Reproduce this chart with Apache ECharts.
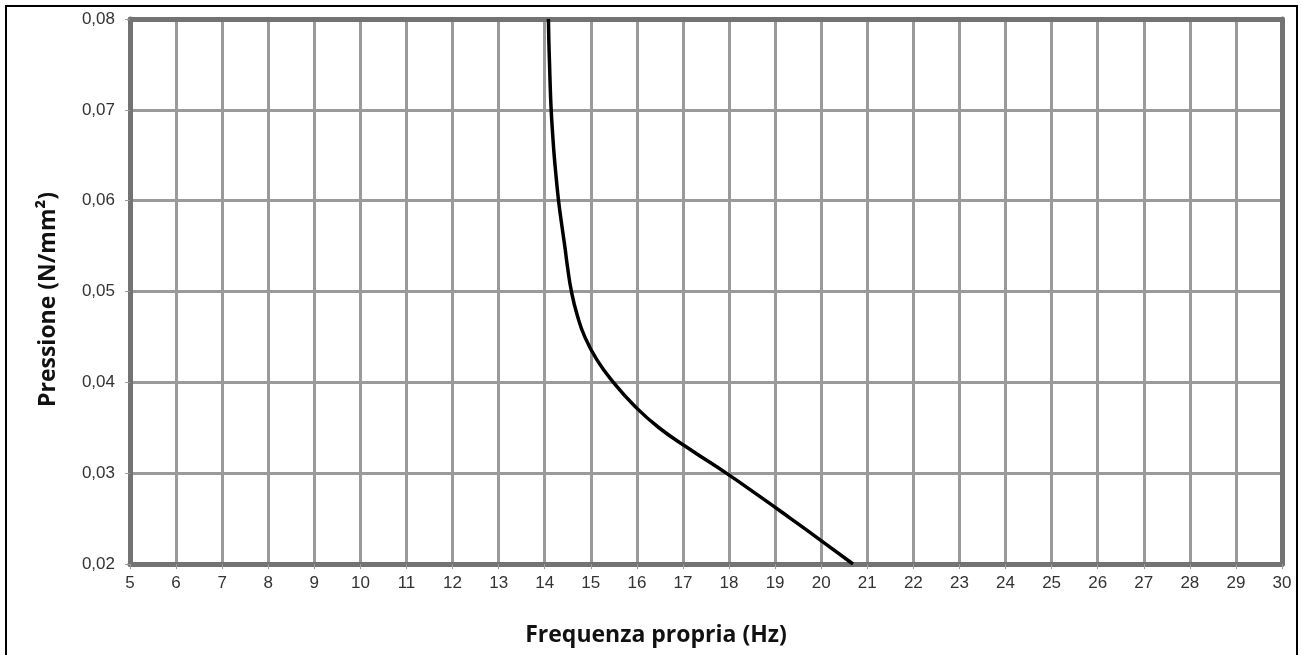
<!DOCTYPE html>
<html>
<head>
<meta charset="utf-8">
<script src="https://cdn.jsdelivr.net/npm/echarts@6/dist/echarts.min.js"></script>
<style>
html,body{margin:0;padding:0;background:#fff;}
#frame{position:absolute;left:5px;top:5px;width:1293px;height:670px;border:2px solid #000;box-sizing:border-box;}
#chart{position:absolute;left:0;top:0;width:1303px;height:655px;}
</style>
</head>
<body>
<div id="frame"></div>
<div id="chart"></div>
<script>
const pressure  = [0.020, 0.0225, 0.025, 0.0275, 0.030, 0.0325, 0.035, 0.0375, 0.040, 0.0425, 0.045, 0.0475, 0.050, 0.0525, 0.055, 0.0575, 0.060, 0.0625, 0.065, 0.0675, 0.070, 0.0725, 0.075, 0.0775, 0.080];
const frequency = [20.69, 20.02, 19.34, 18.65, 17.94, 17.19, 16.48, 15.93, 15.49, 15.13, 14.87, 14.70, 14.58, 14.50, 14.435, 14.365, 14.30, 14.25, 14.205, 14.17, 14.14, 14.12, 14.105, 14.09, 14.08];
const xTitle = 'Frequenza propria (Hz)';
const yTitle = 'Pressione (N/mm²)';

const chart = echarts.init(document.getElementById('chart'), null, {renderer: 'canvas'});
const fmtY = v => v.toFixed(2).replace('.', ',');
const gridColor = '#9a9a9a';
const frameColor = '#737373';
const option = {
  animation: false,
  grid: {left: 130, right: 21, top: 19, bottom: 91},
  xAxis: [{
    type: 'value', min: 5, max: 30, interval: 1,
    name: xTitle, nameLocation: 'middle', nameGap: 60,
    nameTextStyle: {fontFamily: 'Open Sans', fontWeight: 'bold', fontSize: 23, color: '#111', padding: [0, 100, 0, 0]},
    axisLine: {show: true, lineStyle: {color: frameColor, width: 5}},
    axisTick: {show: true, length: 5, lineStyle: {color: gridColor, width: 1}},
    axisLabel: {color: '#333', fontFamily: 'Liberation Sans', fontSize: 17, margin: 11},
    splitLine: {show: true, lineStyle: {color: gridColor, width: 3}}
  }, {
    type: 'value', min: 5, max: 30, position: 'top',
    axisLine: {show: true, lineStyle: {color: frameColor, width: 5}},
    axisTick: {show: false}, axisLabel: {show: false}, splitLine: {show: false}
  }],
  yAxis: [{
    type: 'value', min: 0.02, max: 0.08, interval: 0.01,
    name: yTitle, nameLocation: 'middle', nameGap: 70, nameRotate: 90,
    nameTextStyle: {fontFamily: 'Open Sans', fontWeight: 'bold', fontSize: 23, color: '#111', padding: [0, 16, 0, 0]},
    axisLine: {show: true, lineStyle: {color: frameColor, width: 5}},
    axisTick: {show: true, length: 5, lineStyle: {color: gridColor, width: 1}},
    axisLabel: {color: '#333', fontFamily: 'Liberation Sans', fontSize: 17, margin: 15, formatter: fmtY},
    splitLine: {show: true, lineStyle: {color: gridColor, width: 3}}
  }, {
    type: 'value', min: 0.02, max: 0.08, position: 'right',
    axisLine: {show: true, lineStyle: {color: frameColor, width: 5}},
    axisTick: {show: false}, axisLabel: {show: false}, splitLine: {show: false}
  }],
  series: [{
    type: 'line', smooth: 0.5, symbol: 'none',
    xAxisIndex: 0, yAxisIndex: 0,
    lineStyle: {color: '#000', width: 3.5},
    data: frequency.map((f, i) => [f, pressure[i]]),
    z: 5
  }]
};
chart.setOption(option);
</script>
</body>
</html>
